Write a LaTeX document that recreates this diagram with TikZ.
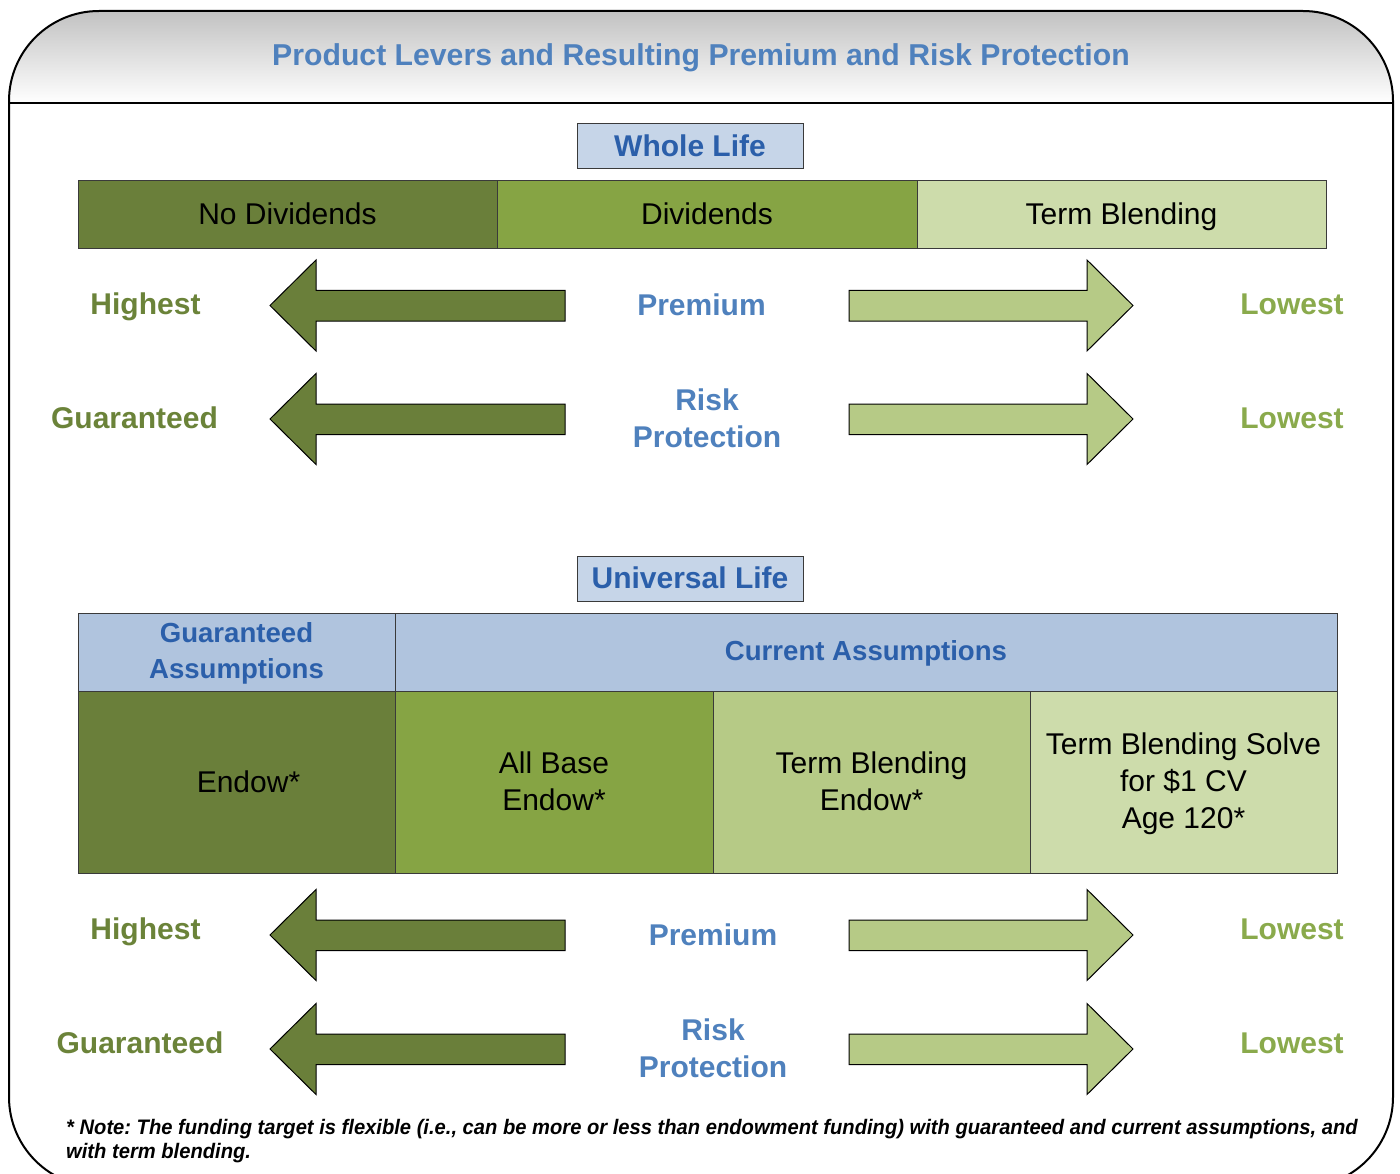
\documentclass[tikz,border=0pt]{standalone}
\usepackage{fontspec}
\setmainfont{Liberation Sans}
\newfontfamily\notefont[FakeStretch=0.96]{Liberation Sans}
\frenchspacing
\definecolor{titleblue}{HTML}{4F81BD}
\definecolor{hdrblue}{HTML}{2B5FAA}
\definecolor{boxblue}{HTML}{C6D5E8}
\definecolor{tblblue}{HTML}{B0C4DE}
\definecolor{olive}{HTML}{6A7F3A}
\definecolor{midgreen}{HTML}{86A444}
\definecolor{lgreen}{HTML}{B6CA86}
\definecolor{llgreen}{HTML}{CDDCAB}
\definecolor{hitext}{HTML}{6B8339}
\definecolor{lotext}{HTML}{8AAA4C}
\definecolor{cellline}{HTML}{3A3A3A}
\begin{document}
\begin{tikzpicture}[x=1pt,y=-1pt,
  cell/.style={draw=cellline, line width=1pt, inner sep=0pt, outer sep=0pt, align=center,
    font=\fontsize{30}{37}\selectfont, text=black},
  onerow/.style={text height=21.5pt, text depth=1.5pt},
  hcell/.style={cell, fill=tblblue, text=hdrblue, font=\bfseries\fontsize{27.6}{36}\selectfont},
  celltext/.style={inner sep=0pt, align=center, font=\fontsize{30}{37}\selectfont, text=black},
  secbox/.style={draw=cellline, line width=1pt, fill=boxblue, minimum width=226, minimum height=45,
    inner sep=0pt, text=hdrblue, font=\bfseries\fontsize{30}{36}\selectfont, text height=22pt, text depth=2pt},
  hilabel/.style={text=hitext, font=\bfseries\fontsize{30}{37}\selectfont, inner sep=0pt, anchor=base},
  lolabel/.style={text=lotext, font=\bfseries\fontsize{30}{37}\selectfont, inner sep=0pt, anchor=base},
  midlabel/.style={text=titleblue, font=\bfseries\fontsize{30}{37}\selectfont, inner sep=0pt, align=center},
  larrow/.style={draw=black, line width=1pt, fill=olive, line join=miter},
  rarrow/.style={draw=black, line width=1pt, fill=lgreen, line join=miter}]
\useasboundingbox (0,0) rectangle (1400,1174);
\fill[white] (0,0) rectangle (1400,1174);
% header shading
\begin{scope}
  \clip[rounded corners=90] (9,11) rectangle (1393,1187);
  \shade[top color=black!24, bottom color=white] (9,11) rectangle (1393,103);
\end{scope}
\draw[line width=2pt, rounded corners=90] (9,11) rectangle (1393,1187);
\draw[line width=2pt] (9,103) -- (1393,103);
\node[text=titleblue, font=\bfseries\fontsize{30.2}{34}\selectfont, inner sep=0pt] (title) at (701,58)
  {Product Levers and Resulting Premium and Risk Protection};

% Whole Life
\node[secbox] (wl) at (690,146.5) {Whole Life};
\node[cell, onerow, fill=olive, minimum width=419, minimum height=68] (nodiv) at (287.5,215) {No Dividends};
\node[cell, onerow, fill=midgreen, minimum width=420, minimum height=68] (div) at (707,215) {Dividends};
\node[cell, onerow, fill=llgreen, minimum width=409, minimum height=68] (tb) at (1121.5,215) {Term Blending};

% Universal Life
\node[secbox] (ul) at (690,578.5) {Universal Life};
\node[hcell, minimum width=317, minimum height=78] (ga) at (236.5,652) {};
\node[hcell, minimum width=942, minimum height=78] (ca) at (866,652) {};
\node[celltext, text=hdrblue, font=\bfseries\fontsize{27.6}{36}\selectfont] (gat) at (236.5,653) {Guaranteed\\Assumptions};
\node[celltext, text=hdrblue, font=\bfseries\fontsize{27.6}{36}\selectfont] (cat) at (866,653) {Current Assumptions};
\node[cell, fill=olive, minimum width=317, minimum height=182] (c1) at (236.5,782) {};
\node[cell, fill=midgreen, minimum width=318, minimum height=182] (c2) at (554,782) {};
\node[cell, fill=lgreen, minimum width=317, minimum height=182] (c3) at (871.5,782) {};
\node[cell, fill=llgreen, minimum width=307, minimum height=182] (c4) at (1183.5,782) {};
\node[celltext] (c1t) at (248.5,782) {Endow*};
\node[celltext] (c2t) at (554,781.5) {All Base\\Endow*};
\node[celltext] (c3t) at (871.5,781.5) {Term Blending\\Endow*};
\node[celltext] (c4t) at (1183.5,784) {Term Blending Solve\\for \$1 CV\\Age 120*};

% arrows
\foreach \c in {305.5,419,935,1049}{
  \draw[larrow] (270,\c) -- (316,\c-45.5) -- (316,\c-15) -- (565,\c-15) -- (565,\c+15.5)
     -- (316,\c+15.5) -- (316,\c+45.5) -- cycle;
  \draw[rarrow] (1133,\c) -- (1087,\c-45.5) -- (1087,\c-15) -- (849,\c-15) -- (849,\c+15.5)
     -- (1087,\c+15.5) -- (1087,\c+45.5) -- cycle;
}

% labels upper
\node[hilabel] (hi1) at (145.5,315) {Highest};
\node[hilabel] (gu1) at (134.5,428.5) {Guaranteed};
\node[lolabel] (lo1) at (1292,315) {Lowest};
\node[lolabel] (lo2) at (1292,428.5) {Lowest};
\node[midlabel, anchor=base] (pr1) at (701.5,315.5) {Premium};
\node[midlabel] (rp1) at (707,418) {Risk\\Protection};
% labels lower
\node[hilabel] (hi2) at (145.5,939) {Highest};
\node[hilabel] (gu2) at (140,1053) {Guaranteed};
\node[lolabel] (lo3) at (1292,939) {Lowest};
\node[lolabel] (lo4) at (1292,1053) {Lowest};
\node[midlabel, anchor=base] (pr2) at (713,945.5) {Premium};
\node[midlabel] (rp2) at (713,1048) {Risk\\Protection};

% note
\node[anchor=west, align=left, inner sep=0pt, font=\notefont\bfseries\itshape\fontsize{21}{24}\selectfont] (note) at (66,1141)
  {* Note: The funding target is flexible (i.e., can be more or less than endowment funding) with guaranteed and current assumptions, and\\with term blending.};
\end{tikzpicture}
\end{document}
